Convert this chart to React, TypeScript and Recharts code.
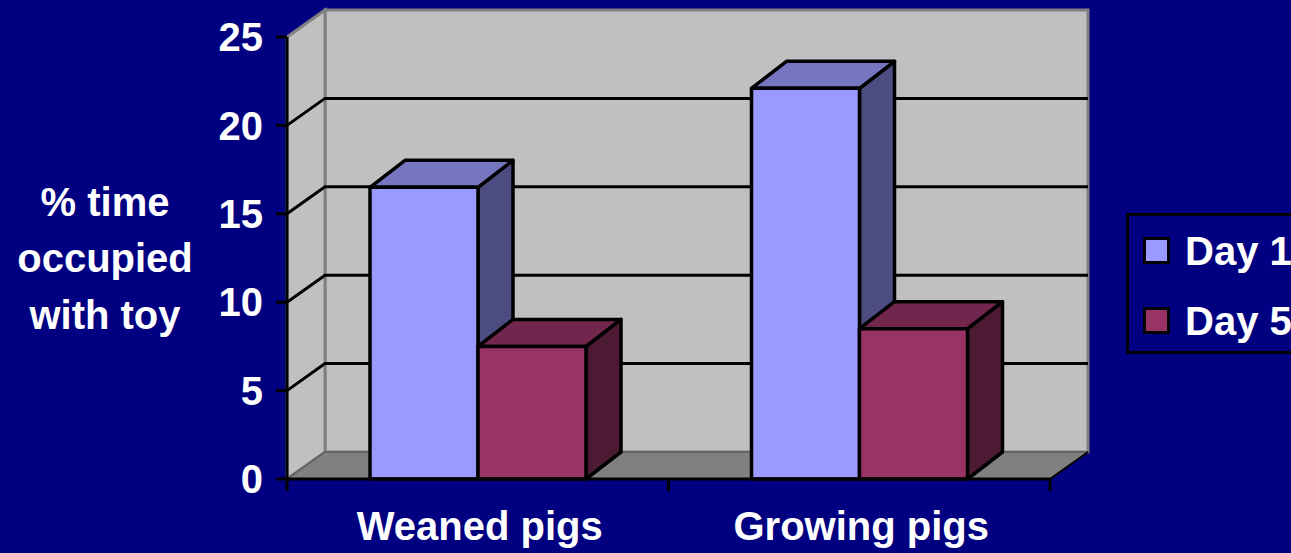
import { BarChart, Bar, XAxis, YAxis, ReferenceArea, ReferenceLine, Legend } from "recharts";

// values
const groups = ["Weaned pigs", "Growing pigs"];
const day1 = [16.5, 22.1];
const day5 = [7.5, 8.5];
const yTicks = [0, 5, 10, 15, 20, 25];
const yLabelLines = ["% time", "occupied", "with toy"];

const data = groups.map((group, i) => ({ group, day1: day1[i], day5: day5[i] }));

const FONT = "'Liberation Sans', Arial, Helvetica, sans-serif";
const NAVY = "#000080";

// 3D depth offsets (walls and bars)
const DX = 38;
const DY = -27;
const BDX = 35;
const BDY = -27;

const DAY1_FACES = { front: "#9999FF", top: "#7575C0", side: "#4C4C80" };
const DAY5_FACES = { front: "#993366", top: "#73264D", side: "#4D1A33" };

const pts = (arr: number[][]) => arr.map((p) => p.join(",")).join(" ");

function Prism(props: any) {
  const { x, y, width, height, faces } = props;
  if (!height) return null;
  const r = x + width;
  const b = y + height;
  return (
    <g stroke="#000" strokeWidth={3.5} strokeLinejoin="round">
      <polygon points={pts([[r, y], [r + BDX, y + BDY], [r + BDX, b + BDY], [r, b]])} fill={faces.side} />
      <polygon points={pts([[x, y], [r, y], [r + BDX, y + BDY], [x + BDX, y + BDY]])} fill={faces.top} />
      <rect x={x} y={y} width={width} height={height} fill={faces.front} />
    </g>
  );
}

function Walls(props: any) {
  const { x, y, width, height } = props;
  const r = x + width;
  const b = y + height;
  return (
    <g>
      <rect x={x + DX} y={y + DY} width={width} height={height} fill="#C0C0C0" stroke="#808080" strokeWidth={3} />
      <polygon
        points={pts([[x, y], [x + DX, y + DY], [x + DX, b + DY], [x, b]])}
        fill="#C0C0C0"
        stroke="#808080"
        strokeWidth={3}
      />
      <polygon
        points={pts([[x, b], [x + DX, b + DY], [r + DX, b + DY], [r, b]])}
        fill="#808080"
        stroke="#5a5a5a"
        strokeWidth={1.5}
      />
      <line x1={r} y1={b} x2={r + DX} y2={b + DY} stroke="#000" strokeWidth={2} />
    </g>
  );
}

function GridLine3D(props: any) {
  const { x1, y1, x2, y2 } = props;
  return (
    <polyline
      points={pts([[x1, y1], [x1 + DX, y1 + DY], [x2 + DX, y2 + DY]])}
      fill="none"
      stroke="#000"
      strokeWidth={3}
    />
  );
}

function CategoryTick(props: any) {
  const { x, y, payload } = props;
  const half = payload?.offset ?? 0;
  return (
    <g>
      <line x1={x - half} x2={x - half} y1={y - 12} y2={y} stroke="#000" strokeWidth={3} />
      <line x1={x + half} x2={x + half} y1={y - 12} y2={y} stroke="#000" strokeWidth={3} />
      <text x={x + 2} y={y + 49} textAnchor="middle" fill="#fff" fontSize={40} fontWeight="bold" fontFamily={FONT}>
        {payload.value}
      </text>
    </g>
  );
}

const renderYLabel = (props: any) => {
  const vb = props.viewBox || { x: 0, y: 37, width: 287, height: 442 };
  const cx = vb.x + 105;
  const cy = vb.y + vb.height / 2;
  return (
    <text textAnchor="middle" fill="#fff" fontSize={40} fontWeight="bold" fontFamily={FONT}>
      {yLabelLines.map((line, i) => (
        <tspan key={line} x={cx} y={cy + 14 + (i - 1) * 56.5}>
          {line}
        </tspan>
      ))}
    </text>
  );
};

const renderLegend = (props: any) => {
  const { payload = [] } = props;
  return (
    <div style={{ border: "3px solid #000", height: 135, width: 200, fontFamily: FONT }}>
      {payload.map((item: any, i: number) => (
        <div
          key={item.value}
          style={{ display: "flex", alignItems: "center", height: 27, marginTop: i === 0 ? 21 : 43, marginLeft: 14 }}
        >
          <span style={{ width: 21, height: 21, border: "3px solid #000", background: item.color, display: "inline-block" }} />
          <span style={{ marginLeft: 15, color: "#fff", fontSize: 40, fontWeight: "bold", lineHeight: "40px" }}>
            {item.value}
          </span>
        </div>
      ))}
    </div>
  );
};

export default function App() {
  return (
    <div style={{ position: "absolute", left: 0, top: 0, width: 1291, height: 553, overflow: "hidden", background: NAVY }}>
      <BarChart width={1291} height={553} data={data} margin={{ top: 37, right: 241, bottom: 0, left: 0 }} barGap={0}>
        <ReferenceArea y1={0} y2={25} shape={(p: any) => <Walls {...p} />} zIndex={-80} />
        {yTicks
          .filter((t) => t > 0 && t < yTicks[yTicks.length - 1])
          .map((t) => (
            <ReferenceLine key={t} y={t} shape={(p: any) => <GridLine3D {...p} />} zIndex={-70} />
          ))}
        <XAxis
          dataKey="group"
          height={74}
          interval={0}
          tickLine={false}
          tickSize={12}
          tickMargin={0}
          axisLine={{ stroke: "#000", strokeWidth: 3 }}
          tick={(p: any) => <CategoryTick {...p} />}
        />
        <YAxis
          type="number"
          domain={[0, 25]}
          ticks={yTicks}
          interval={0}
          width={287}
          tickSize={11}
          tickMargin={13}
          tickLine={{ stroke: "#000", strokeWidth: 3 }}
          axisLine={{ stroke: "#000", strokeWidth: 3 }}
          tick={{ fill: "#fff", fontSize: 40, fontWeight: "bold", fontFamily: FONT }}
          label={{ content: renderYLabel }}
        />
        <Legend
          layout="horizontal"
          align="center"
          verticalAlign="middle"
          wrapperStyle={{ left: 1126, top: 213, width: 210 }}
          content={renderLegend}
        />
        <Bar
          dataKey="day1"
          name="Day 1"
          fill={DAY1_FACES.front}
          barSize={108}
          isAnimationActive={false}
          shape={(p: any) => <Prism {...p} faces={DAY1_FACES} />}
        />
        <Bar
          dataKey="day5"
          name="Day 5"
          fill={DAY5_FACES.front}
          barSize={108}
          isAnimationActive={false}
          shape={(p: any) => <Prism {...p} faces={DAY5_FACES} />}
        />
      </BarChart>
    </div>
  );
}
